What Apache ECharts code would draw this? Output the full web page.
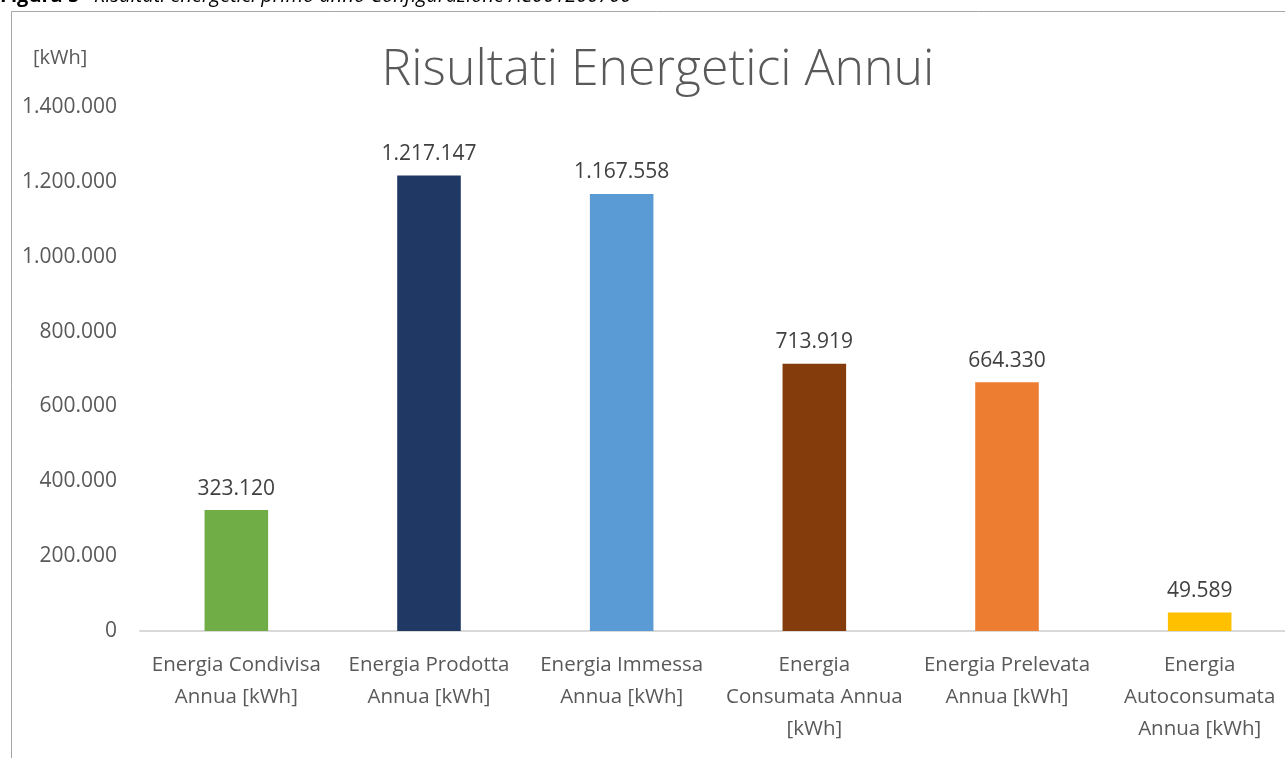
<!DOCTYPE html>
<html>
<head>
<meta charset="utf-8">
<script src="https://cdn.jsdelivr.net/npm/echarts@6/dist/echarts.min.js"></script>
<style>
  html, body { margin: 0; padding: 0; background: #fff; overflow: hidden; }
  /* chart runs a bit past the right edge of the window, like the cropped original */
  #chart { width: 1300px; height: 758px; }
</style>
</head>
<body>
<div id="chart"></div>
<script>
const categories = [
  "Energia Condivisa\nAnnua [kWh]",
  "Energia Prodotta\nAnnua [kWh]",
  "Energia Immessa\nAnnua [kWh]",
  "Energia\nConsumata Annua\n[kWh]",
  "Energia Prelevata\nAnnua [kWh]",
  "Energia\nAutoconsumata\nAnnua [kWh]",
];
const values = [323120, 1217147, 1167558, 713919, 664330, 49589];
const barColors = ["#70ad47", "#203864", "#5b9bd5", "#843c0c", "#ed7d31", "#ffc000"];
const yTicks = [0, 200000, 400000, 600000, 800000, 1000000, 1200000, 1400000];

// thousands separator with dots, like the original
function fmt(v) {
  return String(v).replace(/\B(?=(\d{3})+(?!\d))/g, ".");
}

const FONT = "'Open Sans', 'DejaVu Sans', sans-serif";

const chart = echarts.init(document.getElementById("chart"));
chart.setOption({
  animation: false,
  textStyle: { fontFamily: FONT },
  title: {
    text: "Risultati Energetici Annui",
    left: 653,
    top: 41,
    textAlign: "center",
    textStyle: { fontSize: 50, fontWeight: 300, color: "#595959", fontFamily: FONT },
  },
  graphic: [
    {
      type: "rect",
      shape: { x: 11.5, y: 11.5, width: 1300, height: 800 },
      style: { fill: "none", stroke: "#a6a6a6", lineWidth: 1 },
    },
    {
      type: "text",
      left: 0,
      top: -14,
      style: {
        text: "{b|Figura 5} {i|- Risultati energetici primo anno Configurazione AC001200700}",
        rich: {
          b: { fontWeight: "bold", fontSize: 20, fill: "#000", fontFamily: FONT },
          i: { fontStyle: "italic", fontSize: 20, fill: "#000", fontFamily: FONT },
        },
      },
    },
    {
      type: "text",
      left: 33,
      top: 48,
      style: { text: "[kWh]", fontSize: 20, fill: "#595959", fontFamily: FONT },
    },
  ],
  grid: {
    left: 140,
    right: 4,
    top: 107,
    bottom: 127,
    containLabel: false,
  },
  xAxis: {
    type: "category",
    data: categories,
    axisTick: { show: false },
    axisLine: { lineStyle: { color: "#d9d9d9", width: 2 } },
    axisLabel: {
      interval: 0,
      color: "#595959",
      fontSize: 20.5,
      lineHeight: 32,
      margin: 18,
      fontFamily: FONT,
    },
  },
  yAxis: {
    type: "value",
    min: 0,
    max: yTicks[yTicks.length - 1],
    interval: 200000,
    splitLine: { show: false },
    axisLine: { show: false },
    axisTick: { show: false },
    axisLabel: {
      color: "#595959",
      fontSize: 21,
      margin: 23,
      fontFamily: FONT,
      formatter: (v) => fmt(v),
    },
  },
  series: [
    {
      type: "bar",
      barWidth: "33%",
      data: values.map((v, i) => ({ value: v, itemStyle: { color: barColors[i] } })),
      label: {
        show: true,
        position: "top",
        distance: 11,
        color: "#404040",
        fontSize: 21,
        fontFamily: FONT,
        formatter: (p) => fmt(p.value),
      },
    },
  ],
});
</script>
</body>
</html>
